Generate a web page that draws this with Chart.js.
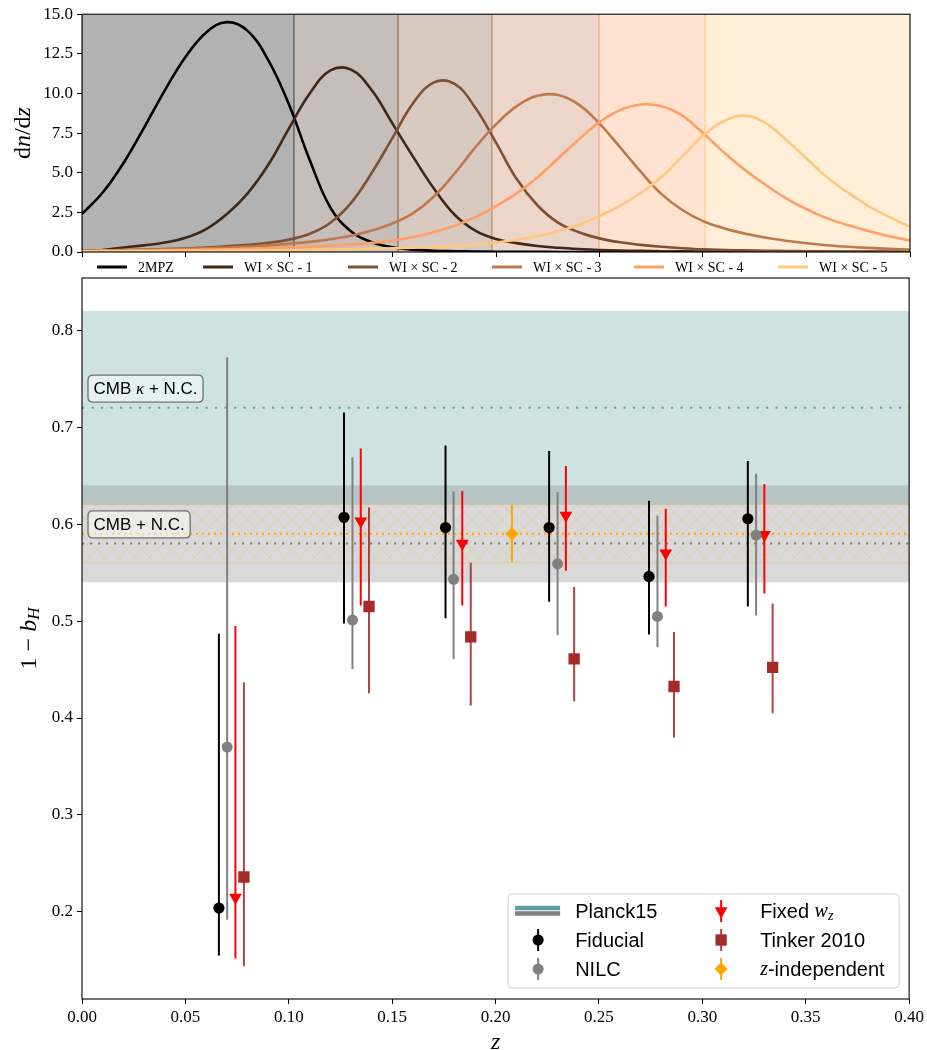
<!DOCTYPE html>
<html>
<head>
<meta charset="utf-8">
<title>dn/dz and 1 - b_H</title>
<script src="https://cdn.jsdelivr.net/npm/chart.js@4.4.1/dist/chart.umd.min.js"></script>
<style>
  html, body { margin: 0; padding: 0; background: #ffffff; }
  #page { position: relative; width: 927px; height: 1050px; overflow: hidden; }
  .box { position: absolute; left: 0; width: 927px; }
</style>
</head>
<body>
<div id="page">
  <div class="box" style="top:0;height:290px"><canvas id="dndzChart" width="927" height="290"></canvas></div>
  <div class="box" style="top:262px;height:788px"><canvas id="biasChart" width="927" height="788"></canvas></div>
</div>
<script>
// ---- top panel: redshift distributions ----
const zGrid = [0.00, 0.01, 0.02, 0.03, 0.04, 0.05, 0.06, 0.07, 0.08, 0.09,
               0.10, 0.11, 0.12, 0.13, 0.14, 0.15, 0.16, 0.17, 0.18, 0.19,
               0.20, 0.21, 0.22, 0.23, 0.24, 0.25, 0.26, 0.27, 0.28, 0.29,
               0.30, 0.31, 0.32, 0.33, 0.34, 0.35, 0.36, 0.37, 0.38, 0.39, 0.40];
const dndz2MPZ = [2.4, 3.75, 5.6, 7.85, 10.2, 12.3, 13.85, 14.5, 13.95, 12.1,
                  9.3, 5.8, 2.8, 1.3, 0.62, 0.3, 0.15, 0.08, 0.05, 0.03,
                  0.02, 0.01, 0.01, 0, 0, 0, 0, 0, 0, 0,
                  0, 0, 0, 0, 0, 0, 0, 0, 0, 0, 0];
const dndzSC1 = [null, 0.12, 0.28, 0.42, 0.6, 0.9, 1.45, 2.4, 3.7, 5.5,
                 7.8, 10.0, 11.45, 11.5, 10.2, 8.1, 6.0, 4.0, 2.35, 1.35,
                 0.82, 0.56, 0.38, 0.27, 0.19, 0.13, 0.09, 0.07, 0.05, 0.04,
                 0.03, 0.02, 0.02, 0.01, 0.01, 0.01, 0, 0, 0, 0, 0];
const dndzSC2 = [0.08, 0.1, 0.12, 0.15, 0.18, 0.22, 0.28, 0.36, 0.45, 0.58,
                 0.78, 1.15, 1.85, 3.1, 5.0, 7.2, 9.4, 10.7, 10.6, 9.1,
                 6.9, 4.6, 2.95, 1.85, 1.25, 0.86, 0.61, 0.45, 0.33, 0.24,
                 0.17, 0.13, 0.1, 0.08, 0.06, 0.05, 0.04, 0.03, 0.03, 0.02, 0.02];
const dndzSC3 = [0.08, 0.1, 0.12, 0.14, 0.17, 0.2, 0.24, 0.28, 0.34, 0.42,
                 0.52, 0.64, 0.8, 1.03, 1.35, 1.8, 2.45, 3.5, 4.95, 6.6,
                 8.05, 9.2, 9.85, 9.9, 9.3, 8.1, 6.6, 5.05, 3.65, 2.65,
                 1.95, 1.5, 1.17, 0.91, 0.71, 0.55, 0.43, 0.33, 0.26, 0.2, 0.15];
const dndzSC4 = [0.06, 0.07, 0.08, 0.09, 0.11, 0.13, 0.15, 0.17, 0.2, 0.24,
                 0.28, 0.33, 0.4, 0.48, 0.58, 0.72, 0.95, 1.25, 1.65, 2.2,
                 2.9, 3.7, 4.7, 5.9, 7.1, 8.2, 8.95, 9.3, 9.2, 8.6,
                 7.5, 6.3, 5.2, 4.25, 3.4, 2.7, 2.12, 1.7, 1.33, 1.0, 0.72];
const dndzSC5 = [0.04, 0.045, 0.05, 0.055, 0.06, 0.07, 0.08, 0.09, 0.1, 0.11,
                 0.12, 0.14, 0.16, 0.18, 0.21, 0.24, 0.27, 0.31, 0.37, 0.47,
                 0.6, 0.77, 1.0, 1.3, 1.72, 2.27, 2.93, 3.73, 4.73, 6.03,
                 7.35, 8.25, 8.6, 8.15, 7.1, 5.9, 4.7, 3.75, 2.9, 2.2, 1.6];
const curveLabels = ['2MPZ', 'WI \u00d7 SC - 1', 'WI \u00d7 SC - 2', 'WI \u00d7 SC - 3', 'WI \u00d7 SC - 4', 'WI \u00d7 SC - 5'];
const bandEdges = [0, 0.1024, 0.1527, 0.198, 0.2498, 0.301, 0.4];

// ---- bottom panel: 1 - b_H per bin ----
const fidZ   = [0.0662, 0.1267, 0.1758, 0.2259, 0.2742, 0.3220];
const fidVal = [0.204, 0.607, 0.5965, 0.5965, 0.546, 0.6055];
const fidLo  = [0.155, 0.4975, 0.503, 0.520, 0.486, 0.515];
const fidHi  = [0.487, 0.715, 0.681, 0.6755, 0.624, 0.665];

const nilcZ   = [0.0702, 0.1308, 0.1797, 0.2300, 0.2783, 0.3260];
const nilcVal = [0.370, 0.501, 0.543, 0.559, 0.5048, 0.5887];
const nilcLo  = [0.192, 0.4505, 0.4605, 0.4853, 0.473, 0.5056];
const nilcHi  = [0.772, 0.669, 0.6336, 0.633, 0.6086, 0.652];

const fixedZ   = [0.0742, 0.1348, 0.1839, 0.2340, 0.2823, 0.3300];
const fixedVal = [0.215, 0.603, 0.580, 0.609, 0.570, 0.589];
const fixedLo  = [0.152, 0.516, 0.516, 0.552, 0.515, 0.5285];
const fixedHi  = [0.495, 0.678, 0.634, 0.660, 0.6158, 0.641];

const tinkerZ   = [0.0783, 0.1388, 0.1880, 0.2380, 0.2863, 0.3340];
const tinkerVal = [0.236, 0.515, 0.4836, 0.461, 0.4325, 0.4523];
const tinkerLo  = [0.144, 0.4255, 0.413, 0.4173, 0.380, 0.405];
const tinkerHi  = [0.437, 0.617, 0.560, 0.535, 0.4888, 0.5182];

const zIndepZ   = [0.2079];
const zIndepVal = [0.590];
const zIndepLo  = [0.5604];
const zIndepHi  = [0.620];

// [low, mean, high]
const cmbKappaBand = [0.62, 0.72, 0.82];
const cmbBand      = [0.54, 0.58, 0.64];
const zIndepBand   = [0.56, 0.59, 0.62];

const xTicks = [0, 0.05, 0.10, 0.15, 0.20, 0.25, 0.30, 0.35, 0.40];

// ---------------------------------------------------------------
Chart.defaults.color = '#000';
const tickFont = { family: 'Liberation Serif', size: 17 };
const curveColors = ['rgb(0,0,0)', 'rgb(64,40,25)', 'rgb(127,80,51)', 'rgb(191,120,76)', 'rgb(255,159,101)', 'rgb(255,199,127)'];
const curveShades = ['rgba(0,0,0,0.3)', 'rgba(64,40,25,0.3)', 'rgba(127,80,51,0.3)', 'rgba(191,120,76,0.3)', 'rgba(255,159,101,0.3)', 'rgba(255,199,127,0.3)'];

const axisGrid = { drawOnChartArea: false, drawTicks: true, tickLength: 5, tickWidth: 1, tickColor: '#000' };

function drawRuns(ctx, runs, x, y) {
    let cx = x;
    runs.forEach(r => {
        ctx.font = r.font;
        ctx.fillText(r.text, cx, y + (r.dy || 0));
        cx += ctx.measureText(r.text).width;
    });
    return cx - x;
}
function runsWidth(ctx, runs) {
    let w = 0;
    runs.forEach(r => { ctx.font = r.font; w += ctx.measureText(r.text).width; });
    return w;
}
function drawRotatedTitle(ctx, runs, cx, cy) {
    ctx.save();
    ctx.translate(cx, cy);
    ctx.rotate(-Math.PI / 2);
    ctx.fillStyle = '#000';
    ctx.textBaseline = 'middle';
    ctx.textAlign = 'left';
    const w = runsWidth(ctx, runs);
    drawRuns(ctx, runs, -w / 2, 0);
    ctx.restore();
}
function roundRect(ctx, x, y, w, h, r) {
    ctx.beginPath();
    ctx.moveTo(x + r, y);
    ctx.lineTo(x + w - r, y);
    ctx.quadraticCurveTo(x + w, y, x + w, y + r);
    ctx.lineTo(x + w, y + h - r);
    ctx.quadraticCurveTo(x + w, y + h, x + w - r, y + h);
    ctx.lineTo(x + r, y + h);
    ctx.quadraticCurveTo(x, y + h, x, y + h - r);
    ctx.lineTo(x, y + r);
    ctx.quadraticCurveTo(x, y, x + r, y);
    ctx.closePath();
}

// ---------------- top chart ----------------
const topBands = {
    id: 'topBands',
    beforeDatasetsDraw(chart) {
        const { ctx, chartArea: a, scales: { x } } = chart;
        ctx.save();
        ctx.beginPath();
        ctx.rect(a.left, a.top, a.right - a.left, a.bottom - a.top);
        ctx.clip();
        for (let i = 0; i < bandEdges.length - 1; i++) {
            const x0 = x.getPixelForValue(bandEdges[i]);
            const x1 = x.getPixelForValue(bandEdges[i + 1]);
            ctx.fillStyle = curveShades[i];
            ctx.fillRect(x0, a.top, x1 - x0, a.bottom - a.top);
            ctx.strokeStyle = curveShades[i];
            ctx.lineWidth = 1.5;
            ctx.beginPath();
            ctx.moveTo(x0, a.top); ctx.lineTo(x0, a.bottom);
            ctx.moveTo(x1, a.top); ctx.lineTo(x1, a.bottom);
            ctx.stroke();
        }
        ctx.restore();
    },
    afterDraw(chart) {
        const { ctx, chartArea: a } = chart;
        ctx.save();
        ctx.strokeStyle = '#000';
        ctx.lineWidth = 1.1;
        ctx.strokeRect(a.left, a.top, a.right - a.left, a.bottom - a.top);

        // legend row under the panel
        const starts = [97, 203, 348, 492, 634, 778];
        const ly = 267;
        ctx.textBaseline = 'middle';
        ctx.textAlign = 'left';
        ctx.fillStyle = '#000';
        ctx.font = '14px "Liberation Serif"';
        curveLabels.forEach((lab, i) => {
            ctx.strokeStyle = curveColors[i];
            ctx.lineWidth = 3;
            ctx.beginPath();
            ctx.moveTo(starts[i], ly);
            ctx.lineTo(starts[i] + 30, ly);
            ctx.stroke();
            ctx.fillText(lab, starts[i] + 41, ly + 1);
        });

        drawRotatedTitle(ctx, [
            { text: 'd', font: '24px "Liberation Serif"' },
            { text: 'n', font: 'italic 24px "Liberation Serif"' },
            { text: '/d', font: '24px "Liberation Serif"' },
            { text: 'z', font: 'italic 24px "Liberation Serif"' },
        ], 24, (a.top + a.bottom) / 2);
        ctx.restore();
    }
};

const curveSeries = [dndz2MPZ, dndzSC1, dndzSC2, dndzSC3, dndzSC4, dndzSC5];

new Chart(document.getElementById('dndzChart'), {
    type: 'line',
    data: {
        datasets: curveSeries.map((vals, i) => ({
            label: curveLabels[i],
            data: zGrid.map((z, k) => ({ x: z, y: vals[k] })),
            borderColor: curveColors[i],
            borderWidth: 2.6,
            pointRadius: 0,
            tension: 0.4,
            fill: false,
            spanGaps: false,
            order: curveSeries.length - i,
        })),
    },
    options: {
        responsive: false,
        animation: false,
        events: [],
        layout: { padding: { top: 12, right: 17, left: 0, bottom: 0 } },
        plugins: { legend: { display: false }, tooltip: { enabled: false } },
        scales: {
            x: {
                type: 'linear', min: 0, max: 0.4,
                ticks: { stepSize: 0.05, callback: () => '', font: tickFont },
                grid: axisGrid,
                border: { display: false },
                afterFit: s => { s.height = 38; },
            },
            y: {
                min: 0, max: 15,
                ticks: { stepSize: 2.5, callback: v => v.toFixed(1), font: tickFont, padding: 4 },
                grid: axisGrid,
                border: { display: false },
                afterFit: s => { s.width = 82; },
            },
        },
    },
    plugins: [topBands],
});

// ---------------- bottom chart ----------------
const series = [
    { label: 'Fiducial', z: fidZ, val: fidVal, lo: fidLo, hi: fidHi, color: '#000000', bar: '#000000', style: 'circle', r: 5.6, rot: 0 },
    { label: 'NILC', z: nilcZ, val: nilcVal, lo: nilcLo, hi: nilcHi, color: '#808080', bar: '#808080', style: 'circle', r: 5.5, rot: 0 },
    { label: 'Fixed', z: fixedZ, val: fixedVal, lo: fixedLo, hi: fixedHi, color: '#ff0000', bar: '#ff0000', style: 'triangle', r: 7.4, rot: 180 },
    { label: 'Tinker 2010', z: tinkerZ, val: tinkerVal, lo: tinkerLo, hi: tinkerHi, color: '#a52a2a', bar: 'rgba(165,42,42,0.88)', style: 'rect', r: 8, rot: 0 },
    { label: 'z-independent', z: zIndepZ, val: zIndepVal, lo: zIndepLo, hi: zIndepHi, color: '#ffa500', bar: '#ffa500', style: 'rectRot', r: 6.6, rot: 0 },
];

function makeHatch() {
    const n = 15;
    const c = document.createElement('canvas');
    c.width = n; c.height = n;
    const g = c.getContext('2d');
    g.strokeStyle = 'rgba(255,165,0,0.2)';
    g.lineWidth = 1;
    g.beginPath();
    g.moveTo(0, 0); g.lineTo(n, n);
    g.moveTo(n, 0); g.lineTo(0, n);
    g.stroke();
    return c;
}

function drawMarker(ctx, s, x, y) {
    ctx.fillStyle = s.color;
    ctx.strokeStyle = s.color;
    Chart.helpers.drawPoint(ctx, { pointStyle: s.style, radius: s.r, rotation: s.rot, borderWidth: 0 }, x, y);
}

const biasPlugin = {
    id: 'biasExtras',
    beforeDatasetsDraw(chart) {
        const { ctx, chartArea: a, scales: { x, y } } = chart;
        const W = a.right - a.left;
        const yp = v => y.getPixelForValue(v);
        ctx.save();
        ctx.beginPath();
        ctx.rect(a.left, a.top, W, a.bottom - a.top);
        ctx.clip();

        ctx.fillStyle = 'rgba(95,158,160,0.3)';
        ctx.fillRect(a.left, yp(cmbKappaBand[2]), W, yp(cmbKappaBand[0]) - yp(cmbKappaBand[2]));
        ctx.fillStyle = 'rgba(128,128,128,0.3)';
        ctx.fillRect(a.left, yp(cmbBand[2]), W, yp(cmbBand[0]) - yp(cmbBand[2]));

        ctx.save();
        ctx.translate(a.left, yp(zIndepBand[2]));
        ctx.fillStyle = ctx.createPattern(makeHatch(), 'repeat');
        ctx.fillRect(0, 0, W, yp(zIndepBand[0]) - yp(zIndepBand[2]));
        ctx.restore();
        ctx.strokeStyle = 'rgba(255,165,0,0.25)';
        ctx.lineWidth = 1;
        ctx.beginPath();
        ctx.moveTo(a.left, yp(zIndepBand[2])); ctx.lineTo(a.right, yp(zIndepBand[2]));
        ctx.moveTo(a.left, yp(zIndepBand[0])); ctx.lineTo(a.right, yp(zIndepBand[0]));
        ctx.stroke();

        const dotted = (v, color, lw, dash) => {
            ctx.strokeStyle = color;
            ctx.lineWidth = lw;
            ctx.setLineDash(dash);
            ctx.beginPath();
            ctx.moveTo(a.left, yp(v)); ctx.lineTo(a.right, yp(v));
            ctx.stroke();
        };
        dotted(cmbKappaBand[1], 'rgb(95,158,160)', 2, [2.2, 7.3]);
        dotted(cmbBand[1], 'rgb(128,128,128)', 2.2, [2.2, 5.8]);
        dotted(zIndepBand[1], 'rgb(255,165,0)', 2, [2, 4]);
        ctx.setLineDash([]);

        // error bars
        series.forEach(s => {
            ctx.strokeStyle = s.bar;
            ctx.lineWidth = 2;
            ctx.beginPath();
            s.z.forEach((z, k) => {
                const px = x.getPixelForValue(z);
                ctx.moveTo(px, yp(s.lo[k]));
                ctx.lineTo(px, yp(s.hi[k]));
            });
            ctx.stroke();
        });
        ctx.restore();
    },
    afterDatasetsDraw(chart) {
        const { ctx, chartArea: a, scales: { y } } = chart;
        const boxes = [
            { v: 0.7397, runs: [
                { text: 'CMB ', font: '17px "Liberation Sans"' },
                { text: '\u03ba', font: 'italic 17px "Liberation Serif"' },
                { text: ' + N.C.', font: '17px "Liberation Sans"' }] },
            { v: 0.5997, runs: [{ text: 'CMB + N.C.', font: '17px "Liberation Sans"' }] },
        ];
        ctx.save();
        ctx.textBaseline = 'middle';
        ctx.textAlign = 'left';
        boxes.forEach(b => {
            const cy = y.getPixelForValue(b.v);
            const w = runsWidth(ctx, b.runs) + 11;
            const bx = a.left + 6;
            roundRect(ctx, bx, cy - 13.5, w, 27, 5);
            ctx.fillStyle = 'rgba(255,255,255,0.5)';
            ctx.fill();
            ctx.strokeStyle = '#707070';
            ctx.lineWidth = 1.3;
            ctx.stroke();
            ctx.fillStyle = '#000';
            drawRuns(ctx, b.runs, bx + 5.5, cy + 1);
        });
        ctx.restore();
    },
    afterDraw(chart) {
        const { ctx, chartArea: a } = chart;
        ctx.save();
        ctx.strokeStyle = '#000';
        ctx.lineWidth = 1.1;
        ctx.strokeRect(a.left, a.top, a.right - a.left, a.bottom - a.top);

        // legend
        const lx = a.right - 401, ly = a.bottom - 105, lw = 391, lh = 94;
        roundRect(ctx, lx, ly, lw, lh, 4);
        ctx.fillStyle = 'rgba(255,255,255,0.85)';
        ctx.fill();
        ctx.strokeStyle = '#d0d0d0';
        ctx.lineWidth = 1;
        ctx.stroke();

        const rows = [ly + 17, ly + 46, ly + 75];
        const c1 = lx + 30, t1 = lx + 67, c2 = lx + 213, t2 = lx + 252;
        const sans = '20px "Liberation Sans"';
        ctx.textBaseline = 'middle';
        ctx.textAlign = 'left';

        ctx.lineWidth = 4.5;
        ctx.strokeStyle = 'rgb(95,158,160)';
        ctx.beginPath(); ctx.moveTo(c1 - 23, rows[0] - 3); ctx.lineTo(c1 + 22, rows[0] - 3); ctx.stroke();
        ctx.strokeStyle = 'rgb(128,128,128)';
        ctx.beginPath(); ctx.moveTo(c1 - 23, rows[0] + 2.5); ctx.lineTo(c1 + 22, rows[0] + 2.5); ctx.stroke();

        const handle = (s, cx, cy) => {
            ctx.strokeStyle = s.bar;
            ctx.lineWidth = 2;
            ctx.beginPath(); ctx.moveTo(cx, cy - 11); ctx.lineTo(cx, cy + 11); ctx.stroke();
            drawMarker(ctx, s, cx, cy);
        };
        handle(series[0], c1, rows[1]);
        handle(series[1], c1, rows[2]);
        handle(series[2], c2, rows[0]);
        handle(series[3], c2, rows[1]);
        handle(series[4], c2, rows[2]);

        ctx.fillStyle = '#000';
        drawRuns(ctx, [{ text: 'Planck15', font: sans }], t1, rows[0] + 1);
        drawRuns(ctx, [{ text: 'Fiducial', font: sans }], t1, rows[1] + 1);
        drawRuns(ctx, [{ text: 'NILC', font: sans }], t1, rows[2] + 1);
        drawRuns(ctx, [
            { text: 'Fixed ', font: sans },
            { text: 'w', font: 'italic 20px "Liberation Serif"' },
            { text: 'z', font: 'italic 14px "Liberation Serif"', dy: 4 }], t2, rows[0] + 1);
        drawRuns(ctx, [{ text: 'Tinker 2010', font: sans }], t2, rows[1] + 1);
        drawRuns(ctx, [
            { text: 'z', font: 'italic 20px "Liberation Serif"' },
            { text: '-independent', font: sans }], t2, rows[2] + 1);

        // axis titles
        drawRotatedTitle(ctx, [
            { text: '1 \u2212 ', font: '24px "Liberation Serif"' },
            { text: 'b', font: 'italic 24px "Liberation Serif"' },
            { text: 'H', font: 'italic 17px "Liberation Serif"', dy: 5 },
        ], 30, (a.top + a.bottom) / 2);

        ctx.fillStyle = '#000';
        ctx.textAlign = 'center';
        ctx.textBaseline = 'middle';
        ctx.font = 'italic 24px "Liberation Serif"';
        ctx.fillText('z', (a.left + a.right) / 2, a.bottom + 44);
        ctx.restore();
    }
};

new Chart(document.getElementById('biasChart'), {
    type: 'scatter',
    data: {
        datasets: series.map(s => ({
            label: s.label,
            data: s.z.map((z, k) => ({ x: z, y: s.val[k] })),
            pointStyle: s.style,
            pointRadius: s.r,
            pointRotation: s.rot,
            backgroundColor: s.color,
            borderColor: s.color,
            borderWidth: 0,
            pointHoverRadius: s.r,
        })),
    },
    options: {
        responsive: false,
        animation: false,
        events: [],
        layout: { padding: { top: 16, right: 17, left: 0, bottom: 0 } },
        plugins: { legend: { display: false }, tooltip: { enabled: false } },
        scales: {
            x: {
                type: 'linear', min: 0, max: 0.4,
                afterBuildTicks: s => { s.ticks = xTicks.map(v => ({ value: v })); },
                ticks: { callback: v => v.toFixed(2), font: tickFont, padding: 3, maxRotation: 0, autoSkip: false },
                grid: axisGrid,
                border: { display: false },
                afterFit: s => { s.height = 51; },
            },
            y: {
                min: 0.1102, max: 0.8538,
                ticks: { stepSize: 0.1, includeBounds: false, callback: v => v.toFixed(1), font: tickFont, padding: 4 },
                grid: axisGrid,
                border: { display: false },
                afterFit: s => { s.width = 82; },
            },
        },
    },
    plugins: [biasPlugin],
});
</script>
</body>
</html>
